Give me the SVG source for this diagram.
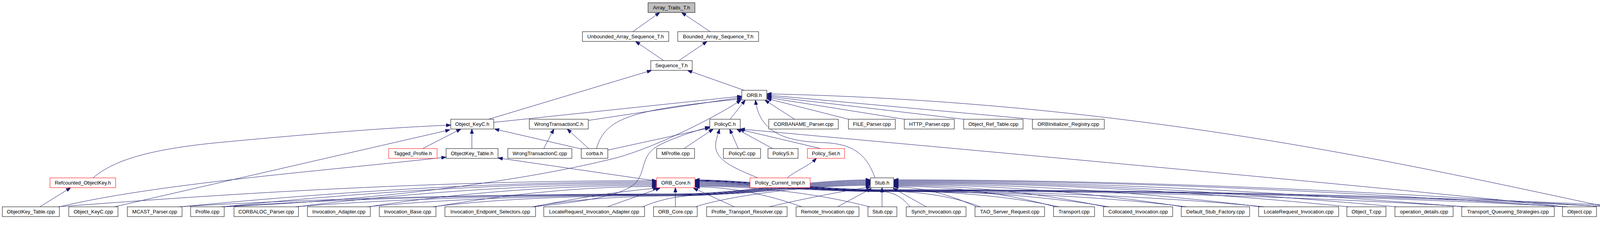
<svg xmlns="http://www.w3.org/2000/svg" width="4363" height="596" viewBox="0 0 4363 596">
<defs>
<style>
.node rect{fill:#ffffff;stroke:#000000;stroke-width:1}
.node.red rect{stroke:#ff0000}
.node.root rect{fill:#bfbfbf}
.node text{font-family:"Liberation Sans",Arial,sans-serif;font-size:13px;fill:#000000;text-anchor:middle}
#edges path{fill:none;stroke:#191970;stroke-width:1;marker-end:url(#ah)}
</style>
<marker id="ah" markerUnits="userSpaceOnUse" markerWidth="12" markerHeight="10" refX="10" refY="3.5" orient="auto" viewBox="0 0 10 7">
<path d="M0,0 L10,3.5 L0,7 z" fill="#191970" stroke="#191970"/>
</marker>
</defs>
<rect x="0" y="0" width="4363" height="596" fill="#ffffff"/>
<g id="edges">
<path d="M1620,81 L1689,32"/>
<path d="M1818,81 L1745,32"/>
<path d="M1699,155 L1627,106"/>
<path d="M1738,155 L1810,106"/>
<path d="M1251,305 L1668,180"/>
<path d="M1905,231 L1760,180"/>
<path d="M1264,313 L1899,246"/>
<path d="M1506,308 L1899,249"/>
<path d="M1527,380 C1550,300 1620,280 1899,253"/>
<path d="M1869,305 L1908,256"/>
<path d="M2034,305 L1958,256"/>
<path d="M2172,305 L1963,252"/>
<path d="M2315,305 L1963,249"/>
<path d="M2467,305 L1963,246"/>
<path d="M2643,305 L1963,243"/>
<path d="M4112,529 C3600,420 2900,260 1963,240"/>
<path d="M2240,455 C2220,400 2190,368 2110,365 C2020,362 1945,345 1934,256"/>
<path d="M574,529 C1000,510 1350,460 1573,405 C1680,377 1840,295 1897,256"/>
<path d="M293,529 L1152,332"/>
<path d="M238,455 C280,420 350,385 556,365 C800,342 1000,326 1154,320"/>
<path d="M1082,380 L1180,330"/>
<path d="M1208,380 L1208,330"/>
<path d="M1488,381 L1266,330"/>
<path d="M1392,380 L1418,330"/>
<path d="M1507,380 L1452,330"/>
<path d="M1556,384 L1817,327"/>
<path d="M1751,380 L1826,330"/>
<path d="M1890,380 L1868,330"/>
<path d="M1978,380 L1886,330"/>
<path d="M2101,380 L1893,331"/>
<path d="M1940,455 C1880,430 1830,410 1832,370 C1833,355 1838,345 1842,330"/>
<path d="M2015,455 C2040,435 2070,425 2090,405"/>
<path d="M4005,529 C3800,505 3000,430 1895,330"/>
<path d="M1365,529 C1500,515 1600,500 1630,465 C1655,430 1640,395 1690,370 C1730,350 1780,335 1817,324"/>
<path d="M102,529 L181,480"/>
<path d="M152,529 C400,470 800,440 1142,402"/>
<path d="M1681,463 L1275,404"/>
<path d="M1729,529 L1729,480"/>
<path d="M148,529 C531,500 1068,462 1681,462"/>
<path d="M462,529 C767,500 1193,465 1681,465"/>
<path d="M570,529 C848,500 1237,468 1681,468"/>
<path d="M760,529 C990,500 1313,471 1681,471"/>
<path d="M944,529 C1128,500 1386,474 1681,474"/>
<path d="M1112,529 C1254,505 1453,477 1681,477"/>
<path d="M1367,529 C1450,512 1560,492 1684,481"/>
<path d="M1555,529 L1690,481"/>
<path d="M458,529 C840,505 1348,496 1730,496 C1900,496 2060,460 2228,460"/>
<path d="M566,529 C915,505 1381,497 1730,497 C1900,497 2060,462 2228,462"/>
<path d="M756,529 C1048,505 1438,498 1730,498 C1900,498 2060,464 2228,464"/>
<path d="M940,529 C1177,505 1493,499 1730,499 C1900,499 2060,466 2228,466"/>
<path d="M1108,529 C1295,505 1543,500 1730,500 C1900,500 2060,468 2228,468"/>
<path d="M1363,529 C1473,508 1620,501 1730,501 C1900,501 2060,470 2228,470"/>
<path d="M1646,529 C1700,505 1760,498 1830,497 C1950,495 2080,472 2228,472"/>
<path d="M1781,529 C1850,505 2050,474 2228,474"/>
<path d="M1969,529 C2050,510 2150,490 2229,478"/>
<path d="M2144,529 L2231,482"/>
<path d="M2258,529 L2258,480"/>
<path d="M2371,529 L2286,481"/>
<path d="M2500,529 C2447,505 2373,478 2288,478"/>
<path d="M2701,529 C2598,500 2453,476 2288,476"/>
<path d="M2829,529 C2694,500 2504,474 2288,474"/>
<path d="M3028,529 C2843,500 2584,472 2288,472"/>
<path d="M3226,529 C2992,500 2663,470 2288,470"/>
<path d="M3452,529 C3161,500 2754,468 2288,468"/>
<path d="M3575,529 C3253,500 2803,466 2288,466"/>
<path d="M3746,529 C3382,500 2871,464 2288,464"/>
<path d="M4004,529 C3575,500 2974,462 2288,462"/>
<path d="M4114,529 C3657,500 3018,460 2288,460"/>
<path d="M1880,529 L1775,481"/>
<path d="M2053,529 C1985,505 1889,478 1779,478"/>
<path d="M2226,529 C2114,500 1958,476 1779,476"/>
<path d="M2330,529 C2310,505 2290,492 2258,490 C2100,490 1900,474 1779,474"/>
<path d="M2510,529 C2434,500 2346,489 2258,489 C2100,489 1900,472 1779,472"/>
<path d="M2711,529 C2575,500 2417,488 2258,488 C2100,488 1900,470 1779,470"/>
<path d="M2839,529 C2665,500 2461,487 2258,487 C2100,487 1900,468 1779,468"/>
<path d="M3038,529 C2804,500 2531,490 2258,490 C2100,490 1900,466 1779,466"/>
<path d="M3236,529 C2943,500 2600,489 2258,489 C2100,489 1900,464 1779,464"/>
<path d="M3756,529 C3307,500 2782,488 2258,488 C2100,488 1900,463 1779,463"/>
<path d="M4014,529 C3487,500 2873,487 2258,487 C2100,487 1900,462 1779,462"/>
<path d="M4124,529 C3564,500 2911,486 2258,486 C2100,486 1900,461 1779,461"/>
<path d="M4212,529 C3626,500 2942,485 2258,485 C2100,485 1900,460 1779,460"/>
</g>
<g id="n_Array_Traits_T_h" class="node root"><rect x="1659" y="7" width="120" height="25"/><text x="1719" y="24">Array_Traits_T.h</text></g>
<g id="n_Unbounded_Array_Sequence_T_h" class="node"><rect x="1491" y="81" width="221" height="25"/><text x="1601.5" y="98">Unbounded_Array_Sequence_T.h</text></g>
<g id="n_Bounded_Array_Sequence_T_h" class="node"><rect x="1735" y="81" width="207" height="25"/><text x="1838.5" y="98">Bounded_Array_Sequence_T.h</text></g>
<g id="n_Sequence_T_h" class="node"><rect x="1666" y="155" width="106" height="25"/><text x="1719" y="172">Sequence_T.h</text></g>
<g id="n_ORB_h" class="node"><rect x="1899" y="231" width="64" height="25"/><text x="1931" y="248">ORB.h</text></g>
<g id="n_Object_KeyC_h" class="node"><rect x="1154" y="305" width="110" height="25"/><text x="1209" y="322">Object_KeyC.h</text></g>
<g id="n_WrongTransactionC_h" class="node"><rect x="1355" y="305" width="151" height="25"/><text x="1430.5" y="322">WrongTransactionC.h</text></g>
<g id="n_PolicyC_h" class="node"><rect x="1817" y="305" width="78" height="25"/><text x="1856" y="322">PolicyC.h</text></g>
<g id="n_CORBANAME_Parser_cpp" class="node"><rect x="1968" y="305" width="178" height="25"/><text x="2057" y="322">CORBANAME_Parser.cpp</text></g>
<g id="n_FILE_Parser_cpp" class="node"><rect x="2172" y="305" width="120" height="25"/><text x="2232" y="322">FILE_Parser.cpp</text></g>
<g id="n_HTTP_Parser_cpp" class="node"><rect x="2315" y="305" width="128" height="25"/><text x="2379" y="322">HTTP_Parser.cpp</text></g>
<g id="n_Object_Ref_Table_cpp" class="node"><rect x="2467" y="305" width="152" height="25"/><text x="2543" y="322">Object_Ref_Table.cpp</text></g>
<g id="n_ORBInitializer_Registry_cpp" class="node"><rect x="2643" y="305" width="184" height="25"/><text x="2735" y="322">ORBInitializer_Registry.cpp</text></g>
<g id="n_Tagged_Profile_h" class="node red"><rect x="995" y="380" width="124" height="25"/><text x="1057" y="397">Tagged_Profile.h</text></g>
<g id="n_ObjectKey_Table_h" class="node"><rect x="1142" y="380" width="133" height="25"/><text x="1208.5" y="397">ObjectKey_Table.h</text></g>
<g id="n_WrongTransactionC_cpp" class="node"><rect x="1300" y="380" width="164" height="25"/><text x="1382" y="397">WrongTransactionC.cpp</text></g>
<g id="n_corba_h" class="node"><rect x="1488" y="380" width="68" height="25"/><text x="1522" y="397">corba.h</text></g>
<g id="n_MProfile_cpp" class="node"><rect x="1681" y="380" width="97" height="25"/><text x="1729.5" y="397">MProfile.cpp</text></g>
<g id="n_PolicyC_cpp" class="node"><rect x="1852" y="380" width="95" height="25"/><text x="1899.5" y="397">PolicyC.cpp</text></g>
<g id="n_PolicyS_h" class="node"><rect x="1966" y="380" width="77" height="25"/><text x="2004.5" y="397">PolicyS.h</text></g>
<g id="n_Policy_Set_h" class="node red"><rect x="2067" y="380" width="95" height="25"/><text x="2114.5" y="397">Policy_Set.h</text></g>
<g id="n_Refcounted_ObjectKey_h" class="node red"><rect x="128" y="455" width="168" height="25"/><text x="212" y="472">Refcounted_ObjectKey.h</text></g>
<g id="n_ORB_Core_h" class="node red"><rect x="1681" y="455" width="98" height="25"/><text x="1730" y="472">ORB_Core.h</text></g>
<g id="n_Policy_Current_Impl_h" class="node red"><rect x="1920" y="455" width="154" height="25"/><text x="1997" y="472">Policy_Current_Impl.h</text></g>
<g id="n_Stub_h" class="node"><rect x="2228" y="455" width="60" height="25"/><text x="2258" y="472">Stub.h</text></g>
<g id="n_ObjectKey_Table_cpp" class="node"><rect x="6" y="529" width="146" height="25"/><text x="79" y="546">ObjectKey_Table.cpp</text></g>
<g id="n_Object_KeyC_cpp" class="node"><rect x="176" y="529" width="126" height="25"/><text x="239" y="546">Object_KeyC.cpp</text></g>
<g id="n_MCAST_Parser_cpp" class="node"><rect x="326" y="529" width="140" height="25"/><text x="396" y="546">MCAST_Parser.cpp</text></g>
<g id="n_Profile_cpp" class="node"><rect x="488" y="529" width="86" height="25"/><text x="531" y="546">Profile.cpp</text></g>
<g id="n_CORBALOC_Parser_cpp" class="node"><rect x="599" y="529" width="165" height="25"/><text x="681.5" y="546">CORBALOC_Parser.cpp</text></g>
<g id="n_Invocation_Adapter_cpp" class="node"><rect x="787" y="529" width="161" height="25"/><text x="867.5" y="546">Invocation_Adapter.cpp</text></g>
<g id="n_Invocation_Base_cpp" class="node"><rect x="971" y="529" width="145" height="25"/><text x="1043.5" y="546">Invocation_Base.cpp</text></g>
<g id="n_Invocation_Endpoint_Selectors_cpp" class="node"><rect x="1139" y="529" width="232" height="25"/><text x="1255" y="546">Invocation_Endpoint_Selectors.cpp</text></g>
<g id="n_LocateRequest_Invocation_Adapter_cpp" class="node"><rect x="1392" y="529" width="258" height="25"/><text x="1521" y="546">LocateRequest_Invocation_Adapter.cpp</text></g>
<g id="n_ORB_Core_cpp" class="node"><rect x="1673" y="529" width="112" height="25"/><text x="1729" y="546">ORB_Core.cpp</text></g>
<g id="n_Profile_Transport_Resolver_cpp" class="node"><rect x="1809" y="529" width="206" height="25"/><text x="1912" y="546">Profile_Transport_Resolver.cpp</text></g>
<g id="n_Remote_Invocation_cpp" class="node"><rect x="2038" y="529" width="161" height="25"/><text x="2118.5" y="546">Remote_Invocation.cpp</text></g>
<g id="n_Stub_cpp" class="node"><rect x="2222" y="529" width="74" height="25"/><text x="2259" y="546">Stub.cpp</text></g>
<g id="n_Synch_Invocation_cpp" class="node"><rect x="2320" y="529" width="153" height="25"/><text x="2396.5" y="546">Synch_Invocation.cpp</text></g>
<g id="n_TAO_Server_Request_cpp" class="node"><rect x="2496" y="529" width="178" height="25"/><text x="2585" y="546">TAO_Server_Request.cpp</text></g>
<g id="n_Transport_cpp" class="node"><rect x="2697" y="529" width="105" height="25"/><text x="2749.5" y="546">Transport.cpp</text></g>
<g id="n_Collocated_Invocation_cpp" class="node"><rect x="2825" y="529" width="177" height="25"/><text x="2913.5" y="546">Collocated_Invocation.cpp</text></g>
<g id="n_Default_Stub_Factory_cpp" class="node"><rect x="3024" y="529" width="175" height="25"/><text x="3111.5" y="546">Default_Stub_Factory.cpp</text></g>
<g id="n_LocateRequest_Invocation_cpp" class="node"><rect x="3222" y="529" width="205" height="25"/><text x="3324.5" y="546">LocateRequest_Invocation.cpp</text></g>
<g id="n_Object_T_cpp" class="node"><rect x="3448" y="529" width="100" height="25"/><text x="3498" y="546">Object_T.cpp</text></g>
<g id="n_operation_details_cpp" class="node"><rect x="3571" y="529" width="149" height="25"/><text x="3645.5" y="546">operation_details.cpp</text></g>
<g id="n_Transport_Queueing_Strategies_cpp" class="node"><rect x="3742" y="529" width="237" height="25"/><text x="3860.5" y="546">Transport_Queueing_Strategies.cpp</text></g>
<g id="n_Object_cpp" class="node"><rect x="4000" y="529" width="87" height="25"/><text x="4043.5" y="546">Object.cpp</text></g>
<g id="n_ORB_cpp" class="node"><rect x="4110" y="529" width="76" height="25"/><text x="4148" y="546">ORB.cpp</text></g>
<g id="n_Adapter_Registry_cpp" class="node"><rect x="4208" y="529" width="151" height="25"/><text x="4283.5" y="546">Adapter_Registry.cpp</text></g>
</svg>
